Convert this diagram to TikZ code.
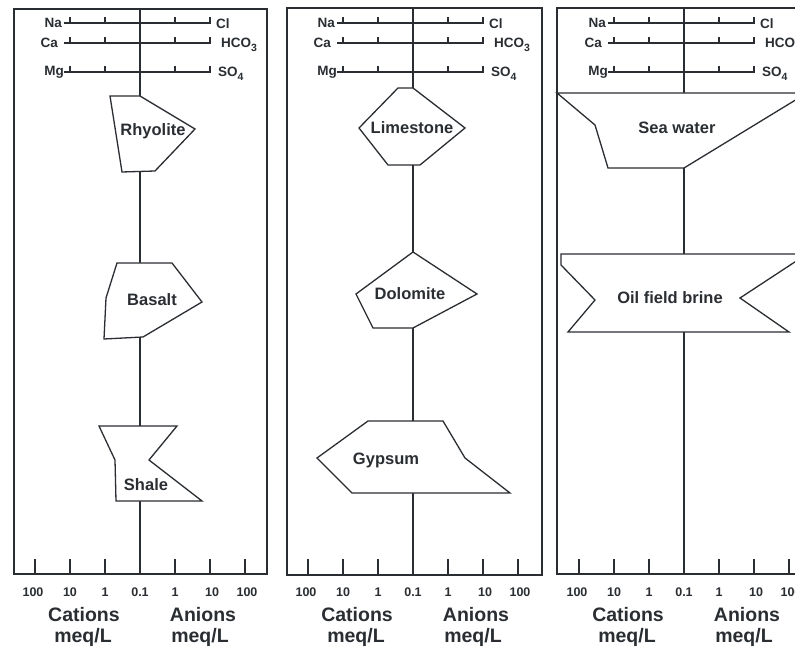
\documentclass[tikz,border=0pt]{standalone}
\usepackage{fontspec}
\setmainfont{Liberation Sans}
\definecolor{ink}{HTML}{2A2E32}
\newcommand{\subnum}[1]{\raisebox{-0.45ex}{\fontsize{10.5}{10.5}\selectfont #1}}
\tikzset{
  frame/.style={draw=ink, line width=1.4pt},
  axisline/.style={draw=ink, line width=1.3pt},
  rockshape/.style={draw=ink, fill=white, line width=1.3pt, line join=miter},
  rock/.style={font=\fontsize{16.5}{18}\selectfont\bfseries, text=ink, inner sep=0pt},
  ion/.style={font=\fontsize{13.5}{14}\selectfont\bfseries, text=ink, inner sep=0pt},
  ticklbl/.style={font=\fontsize{12.5}{13}\selectfont\bfseries, text=ink, inner sep=0pt},
  axislbl/.style={font=\fontsize{19.5}{20}\selectfont\bfseries, text=ink, inner sep=0pt},
  ionaxes/.pic={
    \foreach \yy in {23,43,72} {
      \draw[axisline] (-76,\yy) -- (71,\yy);
      \foreach \xx in {-70,-35,35,70} \draw[axisline] (\xx,\yy) -- (\xx,\yy-6);
    }
    \node[ion, anchor=east] (na) at (-78,23) {Na};
    \node[ion, anchor=east] (ca) at (-82,43) {Ca};
    \node[ion, anchor=east] (mg) at (-76,72) {Mg};
    \node[ion, anchor=west] (cl) at (76,24) {Cl};
    \node[ion, anchor=base west] (hco) at (81,48) {HCO\subnum{3}};
    \node[ion, anchor=base west] (so) at (78,77) {SO\subnum{4}};
    \foreach \xx in {-105,-70,-35,35,70,105} \draw[axisline] (\xx,574) -- (\xx,559);
    \foreach \xx/\tt/\nn in {-107/100/a,-70/10/b,-35/1/c,0/0.1/d,35/1/e,72/10/f,107/100/g}
      \node[ticklbl] (t\nn) at (\xx,592) {\tt};
    \node[axislbl] (cat) at (-56,615) {Cations};
    \node[axislbl] (catu) at (-57,637) {meq/L};
    \node[axislbl] (an) at (63,615) {Anions};
    \node[axislbl] (anu) at (60,637) {meq/L};
  }
}
\begin{document}
\begin{tikzpicture}[x=1pt,y=-1pt]
\useasboundingbox[fill=white] (0,0) rectangle (795,652);
\clip (0,0) rectangle (795,652);

% ---------- panel 1 ----------
\draw[frame] (14,9) rectangle (267,574);
\draw[axisline] (140,9) -- (140,574);
\pic (pa) at (140,0) {ionaxes};
\draw[rockshape] (110,96) -- (140,96) -- (195,129) -- (155,171) -- (122,172) -- cycle;
\node[rock] (rhyolite) at (153,131) {Rhyolite};
\draw[rockshape] (117,263) -- (172,263) -- (202,302) -- (143,337) -- (104,339) -- (106,298) -- cycle;
\node[rock] (basalt) at (152,300) {Basalt};
\draw[rockshape] (99,426) -- (177,426) -- (149,460) -- (202,501) -- (116,501) -- (115,460) -- cycle;
\node[rock] (shale) at (146,485) {Shale};

% ---------- panel 2 ----------
\draw[frame] (287,8) rectangle (542,575);
\draw[axisline] (413,8) -- (413,575);
\pic (pb) at (413,0) {ionaxes};
\draw[rockshape] (398,88) -- (413,88) -- (465,128) -- (420,165) -- (388,165) -- (359,128) -- cycle;
\node[rock] (limestone) at (412,128) {Limestone};
\draw[rockshape] (413,252) -- (477,294) -- (413,328) -- (373,328) -- (356,294) -- cycle;
\node[rock] (dolomite) at (410,294) {Dolomite};
\draw[rockshape] (368,421) -- (443,421) -- (465,458) -- (510,493) -- (352,493) -- (317,458) -- cycle;
\node[rock] (gypsum) at (386,460) {Gypsum};

% ---------- panel 3 ----------
\draw[frame] (557,8) rectangle (815,574);
\draw[axisline] (684,8) -- (684,574);
\pic (pc) at (684,0) {ionaxes};
\draw[rockshape] (557,93) -- (595,125) -- (608,168) -- (684,168) -- (807,93) -- (815,93) -- (815,93) -- cycle;
\node[rock] (seawater) at (677,128) {Sea water};
\draw[rockshape] (561,254) -- (807,254) -- (740,298) -- (789,332) -- (568,332) -- (595,300) -- (561,265) -- cycle;
\node[rock] (brine) at (670,298) {Oil field brine};
\end{tikzpicture}
\end{document}
